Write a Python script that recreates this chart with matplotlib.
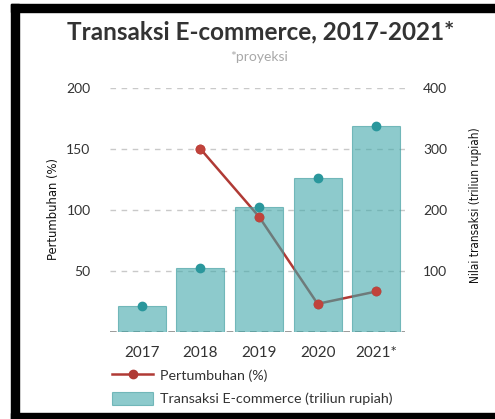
import matplotlib
matplotlib.use('Agg')
from matplotlib import pyplot as plt
from matplotlib.patches import Rectangle

# data
years = ['2017', '2018', '2019', '2020', '2021*']
transaksi = [42.2, 105.6, 205.5, 253.0, 337.0]   # triliun rupiah
growth_years = [1, 2, 3, 4]                       # index into years
pertumbuhan = [150.2, 94.6, 23.1, 33.2]           # %

left_ticks = [50, 100, 150, 200]
right_ticks = [100, 200, 300, 400]

plt.rcParams['font.family'] = ['Lato', 'DejaVu Sans']
narrow = ['Liberation Sans Narrow', 'DejaVu Sans']

W, H = 495, 419
fig = plt.figure(figsize=(W / 100, H / 100), dpi=100)

# axes box: x 110..405, y 88..332 px
ax = fig.add_axes([110 / W, (H - 332) / H, 295 / W, 244 / H])
ax2 = ax.twinx()
ax3 = ax.twinx()

x = list(range(len(years)))

# left axis: gridlines and growth line (under the translucent bars)
ax.set_xlim(-0.54, 4.49)
ax.set_ylim(0, 200)
for t in left_ticks:
    ax.axhline(t, color='#c9c9c9', lw=1, ls=(0, (4, 4)), zorder=0)
ax.axhline(0, color='#8a8a8a', lw=1.2, ls=(0, (4, 3)), zorder=0)
line, = ax.plot(growth_years, pertumbuhan, color='#b03a35', lw=1.8,
                marker='o', ms=6, label='Pertumbuhan (%)', zorder=2)

# right axis: bars
bars = ax2.bar(x, transaksi, width=0.82, color='#42a8aa', alpha=0.6,
               edgecolor='#3a9a9c', linewidth=0.8,
               label='Transaksi E-commerce (triliun rupiah)', zorder=1)
ax2.plot(x, transaksi, 'o', color='#2a979c', ms=6, zorder=3)
ax2.set_ylim(0, 400)

# top axis: red markers over the bars
ax3.set_ylim(0, 200)
ax3.plot(growth_years, pertumbuhan, 'o', color='#c0433c', ms=6, zorder=3)
ax3.set_yticks([])

for a in (ax, ax2, ax3):
    for s in a.spines.values():
        s.set_visible(False)
    a.patch.set_visible(False)

ax.set_xticks(x)
ax.set_xticklabels(years)
ax.tick_params(axis='x', length=0, pad=10, labelsize=11, labelcolor='#333333')
ax.set_yticks(left_ticks)
ax.tick_params(axis='y', length=0, pad=14, labelsize=10, labelcolor='#333333')
ax2.set_yticks(right_ticks)
ax2.tick_params(axis='y', length=0, pad=13, labelsize=10, labelcolor='#333333')

fig.text(53 / W, 1 - 209 / H, 'Pertumbuhan (%)', rotation=90, ha='center', va='center',
         family=narrow, fontstretch='condensed', fontsize=9.3, color='#111111')
fig.text(476 / W, 1 - 205 / H, 'Nilai transaksi (triliun rupiah)', rotation=90,
         ha='center', va='center', family=narrow, fontstretch='condensed',
         fontsize=8.5, color='#111111')

fig.text(261 / W, 1 - 32 / H, 'Transaksi E-commerce, 2017-2021*', ha='center', va='center',
         fontsize=17.5, fontweight='bold', color='#333333')
fig.text(259 / W, 1 - 57 / H, '*proyeksi', ha='center', va='center',
         fontsize=10, color='#a8a8a8')

leg = fig.legend([line, bars], [line.get_label(), bars.get_label()],
                 loc='upper left', bbox_to_anchor=(112 / W, 1 - 368 / H),
                 frameon=False, fontsize=10.3, handlelength=2.9, handleheight=1.05,
                 handletextpad=0.45, labelspacing=0.7, borderpad=0, borderaxespad=0)
for t in leg.get_texts():
    t.set_color('#333333')

# black frame
k = dict(color='black', transform=fig.transFigure, zorder=10)
fig.patches.append(Rectangle((11 / W, 1 - 12 / H), 1, 8 / H, **k))
fig.patches.append(Rectangle((11 / W, 0), 8 / W, 1 - 4 / H, **k))
fig.patches.append(Rectangle((11 / W, 0), 1, 6 / H, **k))

fig.savefig('out.png', dpi=100)
